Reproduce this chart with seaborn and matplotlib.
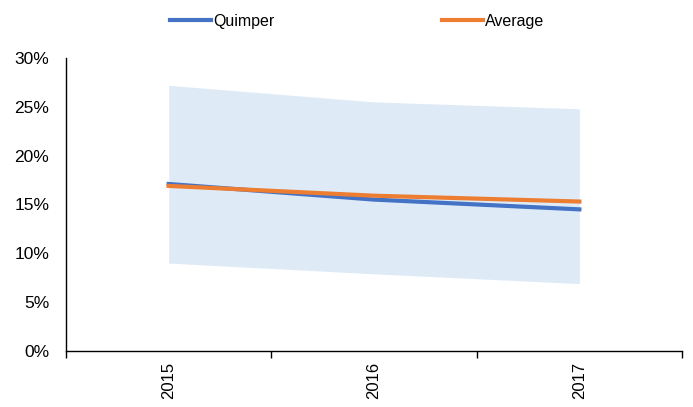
import pandas as pd
import seaborn as sns
import matplotlib.pyplot as plt
from matplotlib.ticker import FuncFormatter, FixedLocator

years = ["2015", "2016", "2017"]
quimper = [17.1, 15.5, 14.5]
average = [16.9, 15.9, 15.3]
band_high = [27.2, 25.5, 24.8]
band_low = [9.0, 7.9, 6.9]

plt.rcParams["font.family"] = ["Liberation Sans", "DejaVu Sans"]

df = pd.DataFrame({
    "pos": list(range(len(years))) * 2,
    "value": quimper + average,
    "series": ["Quimper"] * len(years) + ["Average"] * len(years),
})

fig = plt.figure(figsize=(6.93, 4.07), dpi=100)
ax = fig.add_axes([0.0952, 0.1376, 0.889, 0.72])

# min/max range as a shaded band
ax.fill_between(range(len(years)), band_low, band_high, color="#DEEBF7", lw=0)

sns.lineplot(
    data=df, x="pos", y="value", hue="series",
    palette={"Quimper": "#4472C4", "Average": "#ED7D31"},
    linewidth=3, ax=ax, legend=False,
)

ax.set_ylim(0, 30)
ax.set_xlim(-0.5, len(years) - 0.5)
ax.yaxis.set_major_formatter(FuncFormatter(lambda v, _: f"{v:.0f}%"))
ax.set_yticks(range(0, 31, 5))
ax.tick_params(axis="y", length=0, labelsize=12.5, pad=12)

# category boundaries get tick marks, labels sit in the middle
ax.xaxis.set_major_locator(FixedLocator([i - 0.5 for i in range(len(years) + 1)]))
ax.xaxis.set_minor_locator(FixedLocator(list(range(len(years)))))
ax.set_xticklabels([])
ax.set_xticklabels(years, minor=True, rotation=90)
ax.tick_params(axis="x", which="major", length=5, width=1, direction="out")
ax.tick_params(axis="x", which="minor", length=0, labelsize=12, pad=8)

ax.set_xlabel("")
ax.set_ylabel("")
sns.despine(ax=ax)
for s in ["left", "bottom"]:
    ax.spines[s].set_linewidth(1)

handles = [
    plt.Line2D([], [], color="#4472C4", lw=3),
    plt.Line2D([], [], color="#ED7D31", lw=3),
]
fig.legend(
    handles, ["Quimper", "Average"], loc="center", bbox_to_anchor=(0.515, 0.948),
    ncol=2, frameon=False, fontsize=11.5, handlelength=2.6, handletextpad=0.1,
    columnspacing=10.5,
)

fig.savefig("out.png", dpi=100)
